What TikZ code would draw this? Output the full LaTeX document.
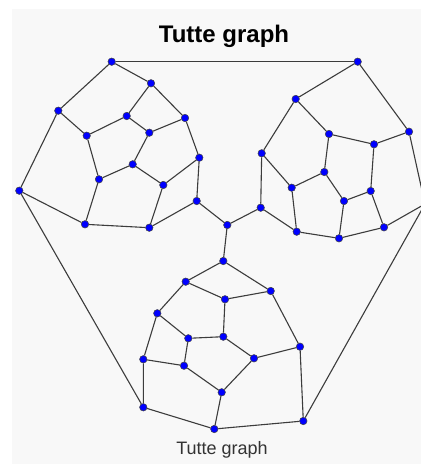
\documentclass[tikz,border=0pt]{standalone}
\usepackage{fontspec}
\setmainfont{Liberation Sans}
\usepackage{xcolor}
\definecolor{panelgray}{RGB}{248,248,248}
\definecolor{edgegray}{RGB}{60,60,60}
\definecolor{vertexblue}{RGB}{0,0,255}

\begin{document}
\begin{tikzpicture}[
    x=1pt, y=-1pt,
    vertex/.style={circle, fill=vertexblue, draw=black!75, line width=0.5pt, inner sep=0pt, minimum size=7.5pt},
    edge/.style={draw=edgegray, line width=1.1pt, line join=round},
    title/.style={font=\bfseries\fontsize{24}{28}\selectfont, anchor=base},
    caption/.style={font=\fontsize{18}{22}\selectfont, text=black!80, anchor=base},
]
    \clip (0,0) rectangle (421,464);
    \fill[white] (0,0) rectangle (421,464);
    \fill[panelgray] (12,9) rectangle (421,464);

    \node[title] (heading) at (224,42) {Tutte graph};
    \node[caption] (label) at (222,454) {Tutte graph};

    \node[vertex] (hub) at (227.3,225) {};

    \node[vertex] (lft1) at (111.7,61.7) {};
    \node[vertex] (lft2) at (151,83.3) {};
    \node[vertex] (lft3) at (58.3,110.7) {};
    \node[vertex] (lft4) at (126.7,116) {};
    \node[vertex] (lft5) at (185,118) {};
    \node[vertex] (lft6) at (86.7,135.7) {};
    \node[vertex] (lft7) at (149.3,132.7) {};
    \node[vertex] (lft8) at (199.3,157.7) {};
    \node[vertex] (lft9) at (132.7,164.3) {};
    \node[vertex] (lft10) at (99,179.3) {};
    \node[vertex] (lft11) at (163.3,185) {};
    \node[vertex] (lft12) at (196.7,201) {};
    \node[vertex] (lft13) at (19.3,190.7) {};
    \node[vertex] (lft14) at (85,224.3) {};
    \node[vertex] (lft15) at (149.3,227.7) {};

    \node[vertex] (rgt1) at (357.7,61.7) {};
    \node[vertex] (rgt2) at (295.7,99) {};
    \node[vertex] (rgt3) at (409,131.7) {};
    \node[vertex] (rgt4) at (329,134) {};
    \node[vertex] (rgt5) at (374,144.3) {};
    \node[vertex] (rgt6) at (261.7,153.3) {};
    \node[vertex] (rgt7) at (324.3,172) {};
    \node[vertex] (rgt8) at (291.7,187.7) {};
    \node[vertex] (rgt9) at (370.7,191) {};
    \node[vertex] (rgt10) at (344,201) {};
    \node[vertex] (rgt11) at (260.7,207.7) {};
    \node[vertex] (rgt12) at (296.7,231.7) {};
    \node[vertex] (rgt13) at (384,227.3) {};
    \node[vertex] (rgt14) at (339,238.3) {};
    \node[vertex] (rgt15) at (425,204) {};

    \node[vertex] (btm1) at (223.3,261) {};
    \node[vertex] (btm2) at (185.7,281.7) {};
    \node[vertex] (btm3) at (270.7,291) {};
    \node[vertex] (btm4) at (225,299.3) {};
    \node[vertex] (btm5) at (157.3,313.3) {};
    \node[vertex] (btm6) at (188.3,338.3) {};
    \node[vertex] (btm7) at (223.3,336.7) {};
    \node[vertex] (btm8) at (300,346.7) {};
    \node[vertex] (btm9) at (143.3,359.3) {};
    \node[vertex] (btm10) at (254,358.3) {};
    \node[vertex] (btm11) at (184,365.7) {};
    \node[vertex] (btm12) at (221.7,392.3) {};
    \node[vertex] (btm13) at (143.3,407.3) {};
    \node[vertex] (btm14) at (214.3,429) {};
    \node[vertex] (btm15) at (303.3,421) {};

    \draw[edge] (lft3) -- (lft1) -- (lft2) -- (lft5) -- (lft8) -- (lft12) -- (lft15) -- (lft14) -- (lft13) -- (lft3);
    \draw[edge] (lft3) -- (lft6) -- (lft4) -- (lft2);
    \draw[edge] (lft4) -- (lft7) -- (lft5);
    \draw[edge] (lft6) -- (lft10) -- (lft9) -- (lft7);
    \draw[edge] (lft10) -- (lft14);
    \draw[edge] (lft9) -- (lft11) -- (lft8);
    \draw[edge] (lft11) -- (lft15);

    \draw[edge] (rgt1) -- (rgt2) -- (rgt6) -- (rgt11) -- (rgt12) -- (rgt14) -- (rgt13) -- (rgt15) -- (rgt3) -- (rgt1);
    \draw[edge] (rgt2) -- (rgt4) -- (rgt5) -- (rgt3);
    \draw[edge] (rgt4) -- (rgt7) -- (rgt8) -- (rgt6);
    \draw[edge] (rgt8) -- (rgt12);
    \draw[edge] (rgt7) -- (rgt10) -- (rgt9) -- (rgt5);
    \draw[edge] (rgt10) -- (rgt14);
    \draw[edge] (rgt9) -- (rgt13);

    \draw[edge] (btm1) -- (btm2) -- (btm5) -- (btm9) -- (btm13) -- (btm14) -- (btm15) -- (btm8) -- (btm3) -- (btm1);
    \draw[edge] (btm2) -- (btm4) -- (btm3);
    \draw[edge] (btm4) -- (btm7) -- (btm6) -- (btm5);
    \draw[edge] (btm6) -- (btm11) -- (btm9);
    \draw[edge] (btm11) -- (btm12) -- (btm14);
    \draw[edge] (btm7) -- (btm10) -- (btm8);
    \draw[edge] (btm10) -- (btm12);

    \draw[edge] (lft1) -- (rgt1);
    \draw[edge] (lft12) -- (hub);
    \draw[edge] (rgt11) -- (hub);
    \draw[edge] (btm1) -- (hub);
    \draw[edge] (lft13) -- (btm13);
    \draw[edge] (rgt15) -- (btm15);

\end{tikzpicture}
\end{document}
